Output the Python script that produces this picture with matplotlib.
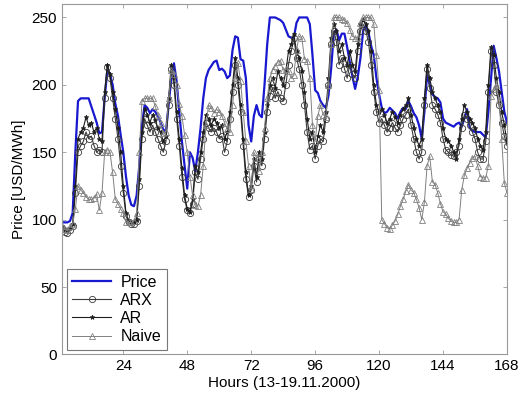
import numpy as np
import matplotlib
matplotlib.use("Agg")
import matplotlib.pyplot as plt

plt.rcParams['font.family'] = ['Liberation Sans', 'DejaVu Sans']

hours = np.arange(1, 169)

price = [98, 98, 98, 99, 105, 150, 188, 190, 190, 190, 190, 184, 178, 172, 164, 165, 190, 211, 208, 200, 186, 177, 163, 150,
         132, 118, 111, 110, 118, 140, 170, 185, 183, 179, 182, 180, 177, 172, 167, 165, 185, 205, 216, 203, 180, 158, 140, 123,
         150, 146, 136, 150, 168, 190, 205, 211, 214, 217, 218, 211, 212, 210, 205, 207, 226, 236, 235, 219, 218, 205, 170, 158,
         177, 185, 178, 176, 200, 230, 250, 250, 250, 249, 248, 246, 241, 236, 235, 235, 246, 250, 250, 250, 250, 245, 222, 196,
         194, 188, 185, 183, 192, 212, 238, 241, 233, 238, 238, 228, 217, 206, 197, 206, 220, 240, 244, 239, 229, 222, 205, 193,
         183, 179, 180, 183, 181, 179, 175, 180, 183, 182, 188, 184, 179, 176, 170, 160, 180, 208, 200, 193, 191, 190, 187, 175,
         172, 171, 170, 169, 171, 172, 169, 175, 182, 168, 166, 165, 165, 165, 163, 161, 180, 205, 229, 220, 210, 195, 180, 172]

arx = [93, 91, 90, 92, 95, 120, 150, 155, 158, 165, 160, 162, 155, 150, 152, 150, 190, 213, 205, 190, 175, 160, 140, 120,
       103, 98, 97, 97, 99, 125, 160, 175, 170, 165, 170, 165, 160, 155, 150, 158, 185, 212, 200, 175, 155, 132, 115, 107,
       105, 112, 135, 130, 145, 160, 172, 168, 165, 168, 165, 160, 162, 150, 158, 175, 195, 215, 200, 180, 155, 130, 117, 122,
       140, 128, 145, 140, 160, 180, 192, 198, 190, 195, 190, 188, 200, 215, 225, 235, 220, 212, 200, 185, 165, 152, 155, 145,
       155, 160, 158, 175, 200, 230, 240, 232, 215, 220, 212, 205, 215, 208, 205, 225, 240, 245, 240, 232, 215, 195, 180, 172,
       175, 170, 165, 168, 172, 168, 165, 170, 175, 178, 182, 170, 160, 150, 145, 150, 185, 212, 198, 185, 182, 178, 172, 160,
       152, 150, 148, 147, 150, 155, 168, 178, 175, 170, 165, 160, 150, 145, 145, 158, 195, 225, 215, 195, 185, 172, 162, 155]

ar = [95, 93, 92, 94, 97, 125, 160, 165, 168, 176, 170, 172, 165, 168, 160, 158, 195, 215, 208, 195, 182, 168, 150, 125,
      105, 99, 98, 98, 100, 130, 165, 182, 178, 172, 178, 174, 168, 165, 158, 162, 190, 215, 205, 180, 160, 138, 118, 108,
      106, 115, 140, 135, 150, 165, 178, 175, 170, 175, 172, 168, 170, 160, 165, 180, 200, 220, 205, 185, 160, 135, 118, 125,
      145, 132, 150, 145, 165, 185, 200, 205, 198, 210, 205, 200, 210, 225, 230, 238, 225, 220, 210, 195, 175, 160, 165, 150,
      162, 170, 165, 180, 205, 235, 245, 240, 225, 230, 220, 215, 225, 215, 210, 230, 245, 248, 245, 240, 225, 200, 185, 180,
      182, 178, 172, 175, 180, 176, 172, 178, 182, 185, 190, 178, 168, 160, 155, 160, 190, 215, 205, 195, 190, 185, 180, 168,
      160, 158, 155, 150, 145, 160, 175, 185, 180, 175, 172, 168, 160, 155, 152, 165, 200, 228, 222, 205, 195, 180, 170, 158]

naive = [95, 93, 92, 95, 97, 108, 125, 122, 120, 117, 115, 115, 116, 119, 107, 120, 150, 152, 150, 135, 115, 112, 108, 105,
         98, 98, 98, 99, 105, 150, 188, 190, 190, 190, 190, 184, 178, 172, 164, 165, 190, 211, 208, 200, 186, 177, 163, 150,
         132, 118, 111, 110, 118, 140, 170, 185, 183, 179, 182, 180, 177, 172, 167, 165, 185, 205, 216, 203, 180, 158, 140, 123,
         150, 146, 136, 150, 168, 190, 205, 211, 214, 217, 218, 211, 212, 210, 205, 207, 226, 236, 235, 219, 218, 205, 170, 158,
         177, 185, 178, 176, 200, 230, 250, 250, 250, 249, 248, 246, 241, 236, 235, 235, 246, 250, 250, 250, 250, 245, 222, 196,
         100, 97, 94, 93, 96, 99, 104, 110, 115, 121, 126, 122, 120, 115, 109, 100, 113, 140, 147, 128, 126, 120, 112, 106,
         104, 101, 99, 98, 98, 100, 122, 133, 138, 142, 146, 147, 140, 132, 131, 131, 140, 192, 197, 200, 189, 160, 127, 120]

fig = plt.figure(figsize=(5.31, 3.98), dpi=100)
ax = fig.add_axes([0.1168, 0.1093, 0.838, 0.8807])

ax.plot(hours, price, color='#1818d0', lw=1.6, label='Price')
ax.plot(hours, arx, color='#3a3a3a', lw=0.8, marker='o', ms=4.5, mfc='none', mew=0.6, label='ARX')
ax.plot(hours, ar, color='#1e1e1e', lw=0.8, marker='*', ms=3.5, mew=0.5, label='AR')
ax.plot(hours, naive, color='#808080', lw=0.7, marker='^', ms=4.5, mfc='none', mew=0.6, label='Naive')

ax.set_xlim(1, 168)
ax.set_ylim(0, 260)
ax.set_xticks([24, 48, 72, 96, 120, 144, 168])
ax.set_yticks([0, 50, 100, 150, 200, 250])
ax.tick_params(direction='in', top=True, right=True, labelsize=11, length=3, width=0.6, colors='#999999', labelcolor='black')
for s in ax.spines.values():
    s.set_color('#999999')
    s.set_linewidth(0.8)

ax.set_xlabel('Hours (13-19.11.2000)', fontsize=11, labelpad=2)
ax.set_ylabel('Price [USD/MWh]', fontsize=11, labelpad=4)

leg = ax.legend(loc='lower left', fontsize=11.5, fancybox=False, framealpha=1, edgecolor='#777777',
                borderaxespad=0.3, handlelength=2.4, labelspacing=0.2, borderpad=0.35, handletextpad=0.6)
leg.get_frame().set_linewidth(0.8)

fig.savefig('out.png', dpi=100)
